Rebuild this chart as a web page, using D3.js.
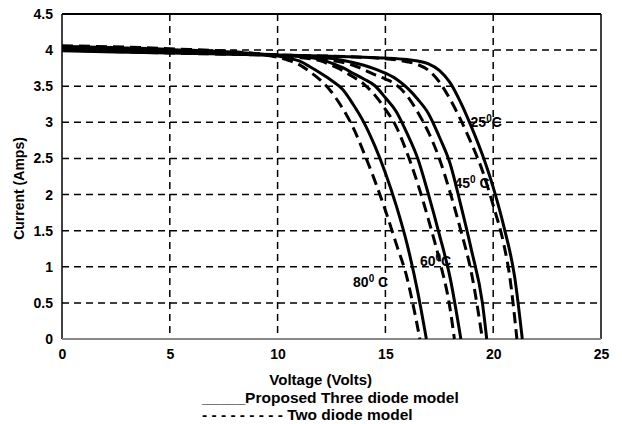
<html>
<head>
<script src="https://cdn.jsdelivr.net/npm/d3@7"></script>
<style>
  body { margin: 0; background: #fff; }
  text { font-family: Arial, "Liberation Sans", sans-serif; font-weight: bold; fill: #000; }
</style>
</head>
<body>
<svg id="chart" width="622" height="424"></svg>
<script>
const xTicks = [0, 5, 10, 15, 20, 25];
const yTicks = [0, 0.5, 1, 1.5, 2, 2.5, 3, 3.5, 4, 4.5];
const yTickLabels = ["0", "0.5", "1", "1.5", "2", "2.5", "3", "3.5", "4", "4.5"];

// points (voltage, current) for each curve
const v80two = [0, 5, 9, 10, 10.5, 11, 11.5, 12, 12.5, 13, 13.5, 14, 14.5, 15, 15.5, 16, 16.3, 16.6];
const i80two = [4.06, 4.02, 3.95, 3.9, 3.86, 3.8, 3.7, 3.58, 3.42, 3.2, 2.93, 2.58, 2.2, 1.78, 1.32, 0.85, 0.45, 0];
const v80three = [0, 5, 10, 10.5, 11, 11.5, 12, 12.5, 13, 13.5, 14, 14.5, 15, 15.5, 16, 16.5, 16.9];
const i80three = [4.05, 4.01, 3.92, 3.89, 3.85, 3.77, 3.68, 3.58, 3.46, 3.25, 3.0, 2.68, 2.3, 1.85, 1.32, 0.65, 0];

const v60two = [0, 5, 10, 11, 12, 12.5, 13, 13.5, 14, 14.5, 15, 15.5, 16, 16.5, 17, 17.5, 18, 18.2];
const i60two = [4.04, 4.0, 3.93, 3.9, 3.85, 3.79, 3.72, 3.63, 3.53, 3.38, 3.18, 2.94, 2.58, 2.15, 1.65, 1.1, 0.42, 0];
const v60three = [0, 5, 10, 11, 12, 12.5, 13, 13.5, 14, 14.5, 15, 15.5, 16, 16.5, 17, 17.5, 18, 18.5];
const i60three = [4.03, 3.99, 3.93, 3.91, 3.87, 3.82, 3.76, 3.68, 3.6, 3.51, 3.34, 3.15, 2.85, 2.5, 2.0, 1.45, 0.85, 0];

const v45two = [0, 5, 10, 11, 12, 13, 13.5, 14, 14.5, 15, 15.5, 16, 16.5, 17, 17.5, 18, 18.5, 19, 19.5];
const i45two = [4.02, 3.98, 3.93, 3.91, 3.88, 3.83, 3.79, 3.73, 3.66, 3.6, 3.52, 3.37, 3.14, 2.86, 2.5, 2.03, 1.5, 0.9, 0];
const v45three = [0, 5, 10, 11, 12, 13, 14, 14.5, 15, 15.5, 16, 16.5, 17, 17.5, 18, 18.5, 19, 19.5, 19.7];
const i45three = [4.01, 3.97, 3.93, 3.92, 3.9, 3.86, 3.79, 3.74, 3.68, 3.6, 3.48, 3.32, 3.12, 2.8, 2.43, 1.85, 1.22, 0.5, 0];

const v25two = [0, 5, 10, 12, 14, 15, 16, 16.5, 17, 17.5, 18, 18.5, 19, 19.5, 20, 20.5, 20.75, 21.1];
const i25two = [4.0, 3.96, 3.93, 3.92, 3.9, 3.88, 3.84, 3.8, 3.72, 3.56, 3.32, 3.03, 2.7, 2.33, 1.85, 1.3, 0.9, 0];
const v25three = [0, 5, 10, 12, 14, 15, 16, 16.5, 17, 17.5, 18, 18.5, 19, 19.5, 20, 20.5, 21, 21.35];
const i25three = [3.99, 3.96, 3.93, 3.92, 3.9, 3.89, 3.87, 3.85, 3.81, 3.72, 3.55, 3.27, 2.93, 2.55, 2.1, 1.55, 0.85, 0];

// temperature labels: text, anchor voltage, anchor current
const tempNames = ["80", "60", "45", "25"];
const tempSpace = [" C", "C", " C", "C"];
const tempV = [13.5, 16.6, 18.2, 18.95];
const tempI = [0.72, 1.01, 2.09, 2.94];

const curves = [
  { v: v80two, i: i80two, dashed: true },
  { v: v80three, i: i80three, dashed: false },
  { v: v60two, i: i60two, dashed: true },
  { v: v60three, i: i60three, dashed: false },
  { v: v45two, i: i45two, dashed: true },
  { v: v45three, i: i45three, dashed: false },
  { v: v25two, i: i25two, dashed: true },
  { v: v25three, i: i25three, dashed: false }
];

const margin = { top: 14, right: 21, bottom: 85, left: 62 };
const width = 622 - margin.left - margin.right;
const height = 424 - margin.top - margin.bottom;

const svg = d3.select("#chart");
const g = svg.append("g").attr("transform", `translate(${margin.left},${margin.top})`);

const x = d3.scaleLinear().domain([0, 25]).range([0, width]);
const y = d3.scaleLinear().domain([0, 4.5]).range([height, 0]);

// dashed grid
g.selectAll(".hgrid")
  .data(yTicks.filter(d => d > 0 && d < 4.5))
  .enter().append("line")
  .attr("x1", 0).attr("x2", width)
  .attr("y1", d => y(d)).attr("y2", d => y(d))
  .attr("stroke", "#000").attr("stroke-width", 1.5)
  .attr("stroke-dasharray", "7,5");

g.selectAll(".vgrid")
  .data(xTicks.filter(d => d > 0 && d < 25))
  .enter().append("line")
  .attr("x1", d => x(d)).attr("x2", d => x(d))
  .attr("y1", 0).attr("y2", height)
  .attr("stroke", "#000").attr("stroke-width", 1.5)
  .attr("stroke-dasharray", "7,5");

// frame
g.append("line").attr("x1", 0).attr("x2", width).attr("y1", 0).attr("y2", 0)
  .attr("stroke", "#000").attr("stroke-width", 2);
g.append("line").attr("x1", width).attr("x2", width).attr("y1", 0).attr("y2", height)
  .attr("stroke", "#000").attr("stroke-width", 1.5);
g.append("line").attr("x1", 0).attr("x2", 0).attr("y1", 0).attr("y2", height)
  .attr("stroke", "#000").attr("stroke-width", 1.5);
g.append("line").attr("x1", 0).attr("x2", width).attr("y1", height).attr("y2", height)
  .attr("stroke", "#888").attr("stroke-width", 2);

// axes labels
const xAxis = d3.axisBottom(x).tickValues(xTicks).tickSize(0).tickPadding(10);
g.append("g").attr("transform", `translate(0,${height})`).call(xAxis)
  .call(s => s.select(".domain").remove())
  .selectAll("text").style("font-size", "14px");

const yAxis = d3.axisLeft(y).tickValues(yTicks).tickSize(0).tickPadding(9)
  .tickFormat((d, i) => yTickLabels[i]);
g.append("g").call(yAxis)
  .call(s => s.select(".domain").remove())
  .selectAll("text").style("font-size", "14px");

// curves
const line = d3.line()
  .x(d => x(d[0]))
  .y(d => y(d[1]))
  .curve(d3.curveMonotoneX);

g.selectAll(".curve")
  .data(curves)
  .enter().append("path")
  .attr("d", c => line(c.v.map((v, k) => [v, c.i[k]])))
  .attr("fill", "none")
  .attr("stroke", "#000")
  .attr("stroke-width", 3)
  .attr("stroke-dasharray", c => c.dashed ? "11,6" : null);

// temperature labels
const labels = g.selectAll(".temp")
  .data(tempNames)
  .enter().append("text")
  .attr("x", (d, k) => x(tempV[k]))
  .attr("y", (d, k) => y(tempI[k]))
  .style("font-size", "14px");
labels.append("tspan").text(d => d);
labels.append("tspan").attr("dy", -5).style("font-size", "10px").text("0");
labels.append("tspan").attr("dy", 5).text((d, k) => tempSpace[k]);

// titles
svg.append("text")
  .attr("x", margin.left + x(12))
  .attr("y", 385)
  .attr("text-anchor", "middle")
  .style("font-size", "15px")
  .text("Voltage (Volts)");

svg.append("text")
  .attr("transform", `translate(24,${margin.top + height / 2 + 12}) rotate(-90)`)
  .attr("text-anchor", "middle")
  .style("font-size", "14px")
  .text("Current (Amps)");

// legend
svg.append("text").attr("x", 202).attr("y", 403).style("font-size", "15.5px")
  .text("_____Proposed Three diode model");
svg.append("text").attr("x", 202).attr("y", 420).style("font-size", "15.5px")
  .text("- - - - - - - - - Two diode model");
</script>
</body>
</html>
